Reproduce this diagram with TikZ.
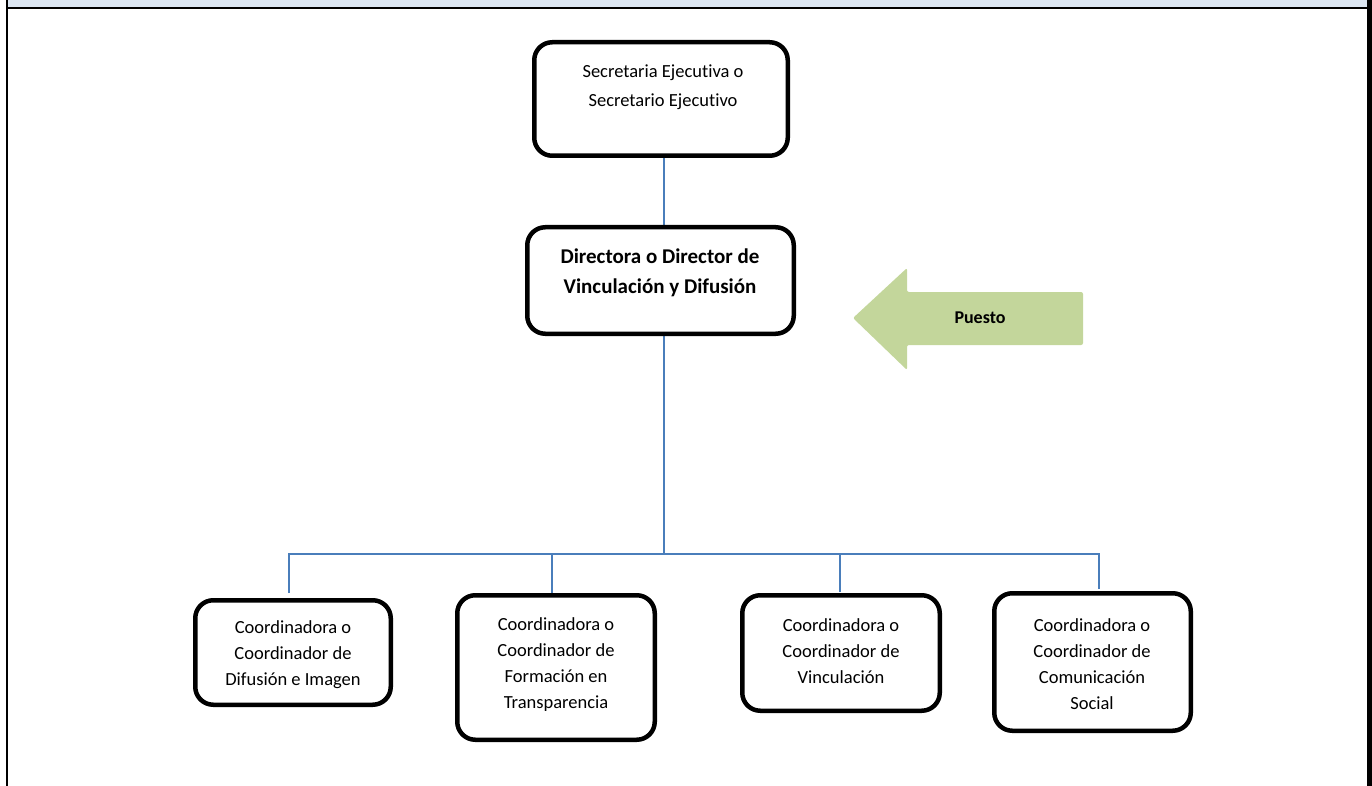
\documentclass[tikz,border=0pt]{standalone}
\usepackage{fontspec}
\setmainfont{Carlito}[Ligatures={NoCommon,TeX}]
\usetikzlibrary{backgrounds}
\definecolor{bandblue}{HTML}{DCE6F2}
\definecolor{connblue}{HTML}{4A7EBB}
\definecolor{arrowgreen}{HTML}{C3D69B}
\tikzset{
  orgbox/.style={draw=black, line width=4.5pt, rounded corners=18pt, fill=white, inner sep=0pt},
  connline/.style={draw=connblue, line width=2pt},
  lbl/.style={align=center, inner sep=0pt, font=\fontsize{18.5}{26}\selectfont},
  toplbl/.style={align=center, inner sep=0pt, font=\fontsize{18.5}{29}\selectfont},
  boldlbl/.style={align=center, inner sep=0pt, font=\bfseries\fontsize{21}{30}\selectfont},
  arrowlbl/.style={inner sep=0pt, font=\bfseries\fontsize{18}{22}\selectfont},
}
\begin{document}
\begin{tikzpicture}[x=1pt,y=-1pt]
\useasboundingbox (0,0) rectangle (1372,786);
% frame
\fill[bandblue] (8,0) rectangle (1367,7.5);
\draw[line width=2pt] (7,0) -- (7,786);
\draw[line width=2pt] (7,7.7) -- (1368,7.7);
\fill[black] (1367,0) rectangle (1372,786);

% boxes
\node[orgbox, minimum width=253.5pt, minimum height=113.5pt] (top) at (661,99) {};
\node[orgbox, minimum width=266.5pt, minimum height=106.5pt] (dir) at (660.5,280.5) {};
\node[orgbox, minimum width=195.5pt, minimum height=104.5pt] (b1) at (293,652.5) {};
\node[orgbox, minimum width=197.5pt, minimum height=144.5pt] (b2) at (556,667.5) {};
\node[orgbox, minimum width=197.5pt, minimum height=115.5pt] (b3) at (841,653) {};
\node[orgbox, minimum width=196.5pt, minimum height=137.5pt] (b4) at (1092.5,662) {};

% texts
\node[toplbl] (ttop) at (663,87.5) {Secretaria Ejecutiva o\\Secretario Ejecutivo};
\node[boldlbl] (tdir) at (660,273) {Directora o Director de\\Vinculación y Difusión};
\node[lbl] (tb1) at (293,654.5) {Coordinadora o\\Coordinador de\\Difusión e Imagen};
\node[lbl] (tb2) at (556,665) {Coordinadora o\\Coordinador de\\Formación en\\Transparencia};
\node[lbl] (tb3) at (841,651.5) {Coordinadora o\\Coordinador de\\Vinculación};
\node[lbl] (tb4) at (1092,664) {Coordinadora o\\Coordinador de\\Comunicación\\Social};

% connectors
\coordinate (j) at (664,554);
\coordinate (d1) at (289,593);
\coordinate (d2) at (552,593);
\coordinate (d3) at (840,592);
\coordinate (d4) at (1099,589);
\begin{scope}[on background layer]
\draw[connline] (top.south -| j) -- (dir.north -| j);
\draw[connline] (dir.south -| j) -- (j);
\draw[connline] (d1) |- (j);
\draw[connline] (d2) |- (j);
\draw[connline] (d3) |- (j);
\draw[connline] (d4) |- (j);
\end{scope}

% Puesto arrow
\fill[arrowgreen, rounded corners=2pt] (853,318) -- (907,268) -- (907,292) -- (1083,292) -- (1083,345) -- (907,345) -- (907,370) -- cycle;
\node[arrowlbl] (puesto) at (980,318) {Puesto};
\end{tikzpicture}
\end{document}
